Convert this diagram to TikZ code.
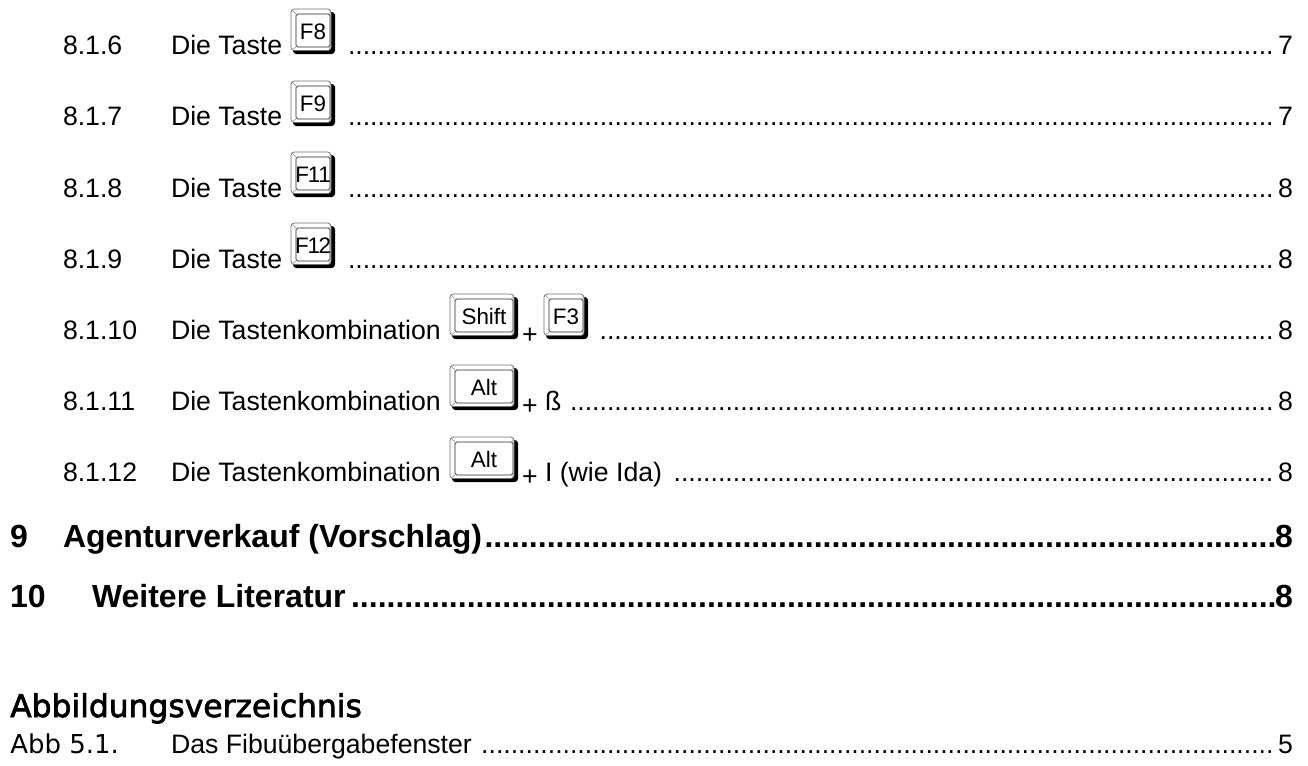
\documentclass[tikz,border=0pt]{standalone}
\usepackage{fontspec}
\setmainfont{Liberation Sans}
\newfontfamily\capsfont{DejaVu Sans}
\newfontfamily\capsbold[FakeBold=2.2]{DejaVu Sans}
% #1 = number of leader dots
\newcommand{\dotrun}[1]{\hbox to \dimexpr #1\dimexpr 5.55pt\relax\relax{\leaders\hbox to 5.55pt{\hss.\hss}\hfill}}
\newcommand{\bdotrun}[1]{\hbox to \dimexpr #1\dimexpr 6.67pt\relax\relax{\leaders\hbox to 6.67pt{\hss.\hss}\hfill}}
\tikzset{
  x=0.75pt,y=-0.75pt,
  txt/.style={anchor=base west,inner sep=0pt,outer sep=0pt,font=\fontsize{20}{24}\selectfont},
  btxt/.style={anchor=base west,inner sep=0pt,outer sep=0pt,font=\fontsize{24}{28}\selectfont\bfseries},
  pnum/.style={anchor=base east,inner sep=0pt,outer sep=0pt,font=\fontsize{20}{24}\selectfont},
  bnum/.style={anchor=base east,inner sep=0pt,outer sep=0pt,font=\fontsize{24}{28}\selectfont\bfseries},
  keylabel/.style={anchor=base,inner sep=0pt,outer sep=0pt,font=\fontsize{16.8}{18}\selectfont},
}
% #1 name, #2 x, #3 ytop, #4 width, #5 label
\newcommand{\keycap}[5]{%
  \fill[black,rounded corners=2.5pt] (#2+2,#3+3) rectangle (#2+#4,#3+45);
  \filldraw[fill=white,draw=black!55,line width=0.55pt,rounded corners=2.5pt] (#2,#3) rectangle (#2+#4-4,#3+41.5);
  \draw[black!45,line width=0.4pt] (#2+1,#3+1) -- (#2+5,#3+5) (#2+#4-5,#3+1) -- (#2+#4-5,#3+5) (#2+1,#3+41) -- (#2+5,#3+38) (#2+#4-5,#3+41) -- (#2+#4-5,#3+38);
  \draw[black!85,line width=0.55pt,fill=white,rounded corners=1.2pt] (#2+5,#3+5) rectangle (#2+#4-5,#3+38);
  \node[keylabel] (#1) at (#2+#4/2,#3+30) {#5};
}
\begin{document}
\begin{tikzpicture}
\useasboundingbox (0,0) rectangle (1308,765);
\fill[white] (0,0) rectangle (1308,765);
% 8.1.6
\node[txt] (n6) at (63,54) {8.1.6};
\node[txt] (t6) at (171,54) {Die Taste};
\keycap{k6}{291}{9}{44}{F8}
\node[pnum] (d6) at (1273,54) {\dotrun{125}};
\node[pnum] (p6) at (1293,54) {7};
% 8.1.7
\node[txt] (n7) at (63,125) {8.1.7};
\node[txt] (t7) at (171,125) {Die Taste};
\keycap{k7}{291}{81}{44}{F9}
\node[pnum] (d7) at (1273,125) {\dotrun{125}};
\node[pnum] (p7) at (1293,125) {7};
% 8.1.8
\node[txt] (n8) at (63,197) {8.1.8};
\node[txt] (t8) at (171,197) {Die Taste};
\keycap{k8}{291}{152}{44}{F\kern-0.8pt 1\kern-1.6pt 1}
\node[pnum] (d8) at (1273,197) {\dotrun{125}};
\node[pnum] (p8) at (1293,197) {8};
% 8.1.9
\node[txt] (n9) at (63,268) {8.1.9};
\node[txt] (t9) at (171,268) {Die Taste};
\keycap{k9}{291}{223}{44}{F\kern-0.8pt 1\kern-1.2pt 2}
\node[pnum] (d9) at (1273,268) {\dotrun{125}};
\node[pnum] (p9) at (1293,268) {8};
% 8.1.10
\node[txt] (n10) at (63,339) {8.1.10};
\node[txt] (t10) at (171,339) {Die Tastenkombination};
\keycap{k10}{450}{294}{68}{Shift}
\node[txt] (pl10) at (522,343) {+};
\keycap{k10b}{544}{294}{44}{F3}
\node[pnum] (d10) at (1273,339) {\dotrun{91}};
\node[pnum] (p10) at (1293,339) {8};
% 8.1.11
\node[txt] (n11) at (63,410) {8.1.11};
\node[txt] (t11) at (171,410) {Die Tastenkombination};
\keycap{k11}{450}{365}{68}{Alt}
\node[txt] (pl11) at (522,414) {+};
\node[txt] (s11) at (545,410) {ß};
\node[pnum] (d11) at (1273,410) {\dotrun{95}};
\node[pnum] (p11) at (1293,410) {8};
% 8.1.12
\node[txt] (n12) at (63,481) {8.1.12};
\node[txt] (t12) at (171,481) {Die Tastenkombination};
\keycap{k12}{450}{437}{68}{Alt}
\node[txt] (pl12) at (522,485) {+};
\node[txt] (s12) at (545,481) {I (wie Ida)};
\node[pnum] (d12) at (1273,481) {\dotrun{81}};
\node[pnum] (p12) at (1293,481) {8};
% 9
\node[btxt] (n13) at (10,547) {9};
\node[btxt] (t13) at (63,547) {Agenturverkauf (Vorschlag)};
\node[bnum] (d13) at (1276,547) {\bdotrun{89}};
\node[bnum] (p13) at (1293,547) {8};
% 10
\node[btxt] (n14) at (10,607) {10};
\node[btxt] (t14) at (92,607) {Weitere Literatur};
\node[bnum] (d14) at (1276,607) {\bdotrun{104}};
\node[bnum] (p14) at (1293,607) {8};
% heading
\node[anchor=base west,inner sep=0pt,font=\capsbold\fontsize{23.5}{28}\selectfont] (h) at (10,717) {Abbildungsverzeichnis};
\node[anchor=base west,inner sep=0pt,font=\capsfont\fontsize{19.5}{22}\selectfont] (a1) at (10,753) {Abb 5.1.};
\node[txt] (a2) at (171,753) {Das Fibuübergabefenster};
\node[pnum] (d15) at (1273,753) {\dotrun{107}};
\node[pnum] (a3) at (1293,753) {5};
\end{tikzpicture}
\end{document}
